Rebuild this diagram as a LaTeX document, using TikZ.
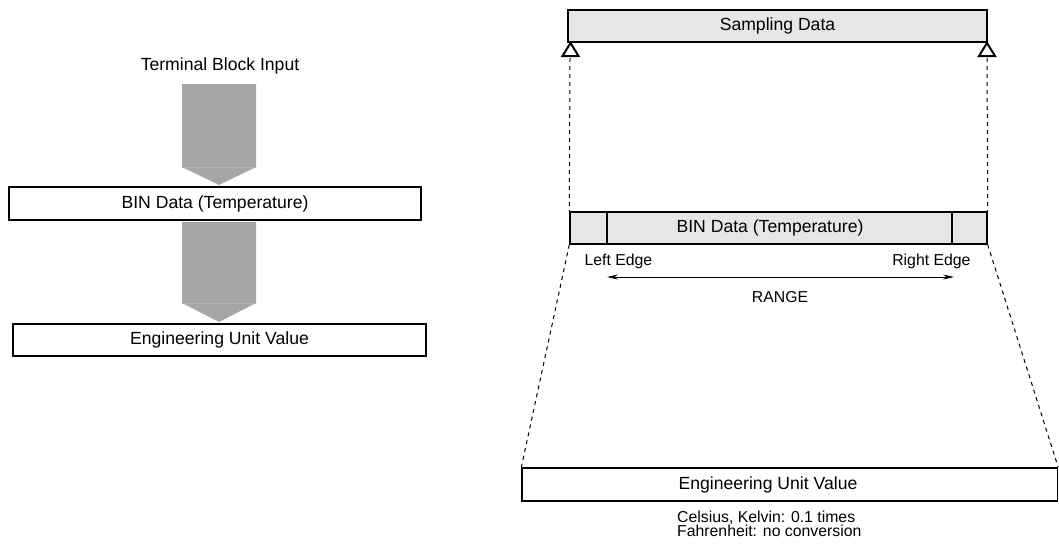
\documentclass[tikz,border=0pt]{standalone}
\usepackage{fontspec}
\setmainfont{Liberation Sans}
\usetikzlibrary{arrows.meta}
\definecolor{blockgray}{HTML}{A6A6A6}
\definecolor{seamgray}{HTML}{B4B4B4}
\definecolor{lightfill}{HTML}{E6E6E6}
\begin{document}
\begin{tikzpicture}[x=1pt,y=-1pt,
  bigtext/.style={font=\fontsize{17.6}{20}\selectfont},
  smalltext/.style={font=\fontsize{15.8}{14}\selectfont},
  leftbox/.style={draw=black, line width=1.8pt, inner sep=0pt, bigtext},
  rightbox/.style={draw=black, line width=1.4pt, inner sep=0pt, bigtext},
  graybox/.style={rightbox, fill=lightfill},
  blockarrow/.style={fill=blockgray, draw=none},
  seam/.style={draw=seamgray, line width=0.6pt},
  guide/.style={draw=black, line width=1pt, dash pattern=on 4pt off 4pt},
  tri/.style={draw=black, line width=2pt, line join=miter, fill=white},
  rangearrow/.style={draw=black, line width=0.9pt, {Stealth[length=11pt,width=5pt]}-{Stealth[length=11pt,width=5pt]}}
]
\useasboundingbox (0,0) rectangle (1059,546);

% ---------- left column ----------
\node[bigtext] (tbi) at (220,66) {Terminal Block Input};
\node[leftbox, minimum width=412pt, minimum height=33pt] (bin1) at (215,203.5) {BIN Data (Temperature)};
\node[leftbox, minimum width=413pt, minimum height=32pt] (eng1) at (219.5,340) {Engineering Unit Value};

\path[blockarrow] (182,84) -- (256,84) -- (256,167) -- (219,185) -- (182,167) -- cycle;
\draw[seam] (182,167) -- (256,167);
\path[blockarrow] (182,222) -- (256,222) -- (256,303) -- (219,322) -- (182,303) -- cycle;
\draw[seam] (182,303) -- (256,303);

% ---------- right column ----------
\node[graybox, minimum width=419pt, minimum height=32pt] (samp) at (777.5,26) {Sampling Data};

\node[graybox, minimum width=417pt, minimum height=32pt] (bin2) at (778.5,228) {};
\coordinate (dl) at (607,212);
\coordinate (dl2) at (607,244);
\coordinate (dr) at (952,212);
\coordinate (dr2) at (952,244);
\draw[line width=1.4pt] (dl) -- (dl2) (dr) -- (dr2);
\node[bigtext] (bintext) at (770,228) {BIN Data (Temperature)};

\node[rightbox, minimum width=535.5pt, minimum height=33pt] (eng2) at (789.75,484.5) {};
\node[bigtext] (engtext) at (768,485) {Engineering Unit Value};

% triangles under the sampling box
\coordinate (tl) at (570.5,43);
\coordinate (tr) at (987,43);
\draw[tri] (tl) -- ++(8,13) -- ++(-16,0) -- cycle;
\draw[tri] (tr) -- ++(8,13) -- ++(-16,0) -- cycle;
\coordinate (tlb) at (570,58);
\coordinate (trb) at (987,58);

% dashed guides
\draw[guide] (tlb) -- (bin2.north west);
\draw[guide] (trb) -- (bin2.north east);
\draw[guide] (bin2.south west) -- (eng2.north west);
\draw[guide] (bin2.south east) -- (eng2.north east);

% labels
\node[smalltext, anchor=west] (le) at (581,261) {Left Edge};
\node[smalltext, anchor=east] (re) at (974,261) {Right Edge};
\coordinate (ra) at (607,277);
\coordinate (rb) at (954,277);
\draw[rangearrow] (ra) -- (rb);
\node[smalltext] (range) at (780,297) {RANGE};

\node[smalltext, anchor=north west, align=left, inner sep=0pt] (note) at (677,511)
  {Celsius, Kelvin: 0.1 times\\Fahrenheit: no conversion};
\end{tikzpicture}
\end{document}
